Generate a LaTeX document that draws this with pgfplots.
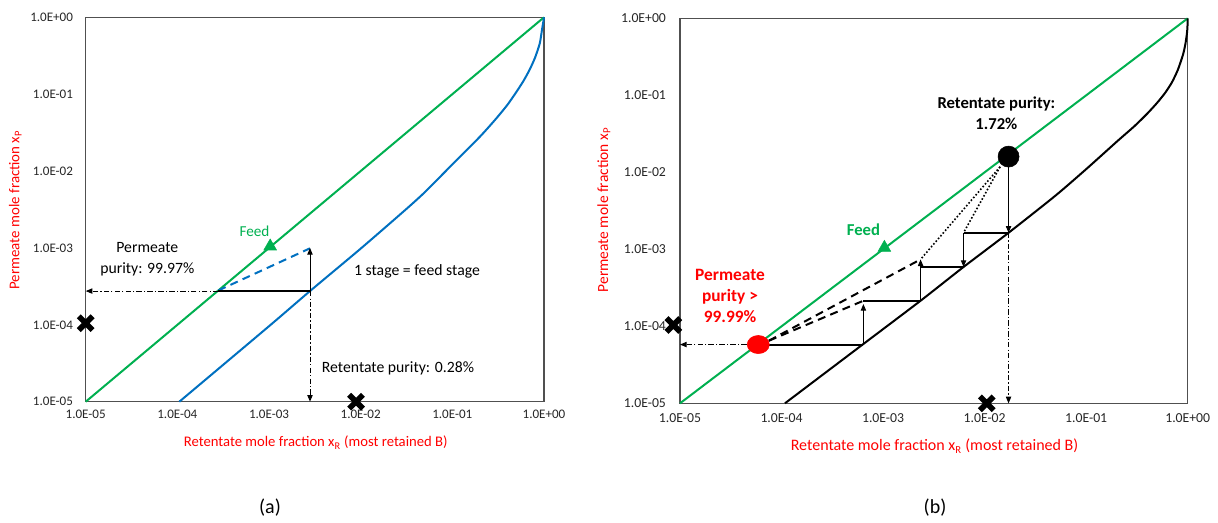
\documentclass[border=0pt]{standalone}
\usepackage{fontspec}
\setmainfont{Carlito}
\usepackage{pgfplots}
\pgfplotsset{compat=1.18}
\usetikzlibrary{arrows.meta}
\definecolor{xlgreen}{RGB}{0,176,80}
\definecolor{xlblue}{RGB}{0,112,192}
\definecolor{axgray}{RGB}{80,80,80}
\definecolor{xlred}{RGB}{255,0,0}

\tikzset{
  arr/.style={black, line width=0.7pt, -{Triangle[length=5pt,width=4pt]}},
  dda/.style={black, line width=0.7pt, dash pattern=on 4pt off 1.6pt on 1pt off 1.6pt, -{Triangle[length=5pt,width=4pt]}},
  stp/.style={black, line width=1.5pt},
  bigx/.style={only marks, mark=x, mark size=7.3pt, line width=4.2pt, black},
}

\begin{document}
\begin{tikzpicture}
\begin{scope}[x=0.75pt,y=-0.75pt]
  \path[use as bounding box] (0,0) rectangle (1218,522);
\end{scope}

% ---------------- panel (a)
\begin{axis}[
  xmode=log, ymode=log, scale only axis,
  xmin=1e-5, xmax=1, ymin=1e-5, ymax=1,
  xtick={1e-5,1e-4,1e-3,1e-2,1e-1,1},
  ytick={1e-5,1e-4,1e-3,1e-2,1e-1,1},
  xticklabels={1.0E-05,1.0E-04,1.0E-03,1.0E-02,1.0E-01,1.0E+00},
  yticklabels={1.0E-05,1.0E-04,1.0E-03,1.0E-02,1.0E-01,1.0E+00},
  xminorticks=false, yminorticks=false,
  major tick length=0pt,
  axis line style={draw=axgray, line width=1.1pt},
  clip=false,
  tick label style={text=black!85, font=\fontsize{9.8}{11}\selectfont},
  at={(64.28pt,-301.28pt)}, anchor=south west,
  width=343.7pt, height=288.3pt,
  xticklabel style={yshift=-3pt}, yticklabel style={xshift=-6pt}]
  \addplot[xlgreen, line width=1.5pt] coordinates {(1e-5,1e-5) (1,1)};
  \addplot[xlblue, line width=1.5pt, smooth, tension=0.4] coordinates {
    (1.05e-4,1e-5) (1e-3,9.6e-5) (2.8e-3,2.75e-4) (1e-2,9.8e-4) (3e-2,3.05e-3) (5e-2,5.3e-3)
    (0.1,0.0122) (0.2,0.028) (0.3,0.048) (0.4,0.073) (0.5,0.107) (0.6,0.150)
    (0.7,0.21) (0.8,0.30) (0.9,0.458) (0.95,0.68) (0.98,0.85) (1,1)};
  \addplot[xlblue, line width=1.5pt, dash pattern=on 6pt off 4pt] coordinates {(2.8e-4,2.8e-4) (2.8e-3,9.9e-4)};
  \addplot[stp] coordinates {(2.8e-4,2.75e-4) (2.8e-3,2.75e-4)};
  \addplot[arr] coordinates {(2.8e-3,2.75e-4) (2.8e-3,1e-3)};
  \addplot[dda] coordinates {(2.8e-4,2.75e-4) (1e-5,2.75e-4)};
  \addplot[dda] coordinates {(2.8e-3,2.75e-4) (2.8e-3,1e-5)};
  \addplot[only marks, mark=triangle*, mark size=5.5pt, xlgreen] coordinates {(1.03e-3,1.05e-3)};
  \addplot[bigx] coordinates {(1e-5,1.05e-4) (8.9e-3,1e-5)};
\end{axis}

% ---------------- panel (b)
\begin{axis}[
  xmode=log, ymode=log, scale only axis,
  xmin=1e-5, xmax=1, ymin=1e-5, ymax=1,
  xtick={1e-5,1e-4,1e-3,1e-2,1e-1,1},
  ytick={1e-5,1e-4,1e-3,1e-2,1e-1,1},
  xticklabels={1.0E-05,1.0E-04,1.0E-03,1.0E-02,1.0E-01,1.0E+00},
  yticklabels={1.0E-05,1.0E-04,1.0E-03,1.0E-02,1.0E-01,1.0E+00},
  xminorticks=false, yminorticks=false,
  major tick length=0pt,
  axis line style={draw=axgray, line width=1.1pt},
  clip=false,
  tick label style={text=black!85, font=\fontsize{10.3}{12}\selectfont},
  at={(510pt,-302.48pt)}, anchor=south west,
  width=380.8pt, height=288.75pt,
  xticklabel style={yshift=-4pt}, yticklabel style={xshift=-7pt}]
  \addplot[xlgreen, line width=1.5pt] coordinates {(1e-5,1e-5) (1,1)};
  \addplot[black, line width=1.5pt, smooth, tension=0.4] coordinates {
    (1.08e-4,1e-5) (6.4e-4,5.9e-5) (2.34e-3,2.15e-4) (6.2e-3,5.9e-4) (1.72e-2,1.64e-3)
    (5e-2,5e-3) (0.1,0.011) (0.2,0.025) (0.3,0.040) (0.4,0.058) (0.5,0.080)
    (0.6,0.108) (0.7,0.148) (0.8,0.215) (0.9,0.34) (0.95,0.47) (0.985,0.66) (0.997,0.85) (1,1)};
  % dashed and dotted construction lines
  \addplot[black, line width=1.5pt, dash pattern=on 6pt off 4pt] coordinates {(7.5e-5,6.5e-5) (6.4e-4,2.15e-4)};
  \addplot[black, line width=1.5pt, dash pattern=on 6pt off 4pt] coordinates {(7.5e-5,6.5e-5) (2.34e-3,7.4e-4)};
  \addplot[black, line width=1.2pt, dash pattern=on 1.2pt off 1.5pt] coordinates {(1.42e-2,1.18e-2) (2.34e-3,7.4e-4)};
  \addplot[black, line width=1.2pt, dash pattern=on 1.2pt off 1.5pt] coordinates {(1.42e-2,1.18e-2) (6.2e-3,1.64e-3)};
  % staircase
  \addplot[stp] coordinates {(5.8e-5,5.8e-5) (6.4e-4,5.8e-5)};
  \addplot[arr] coordinates {(6.4e-4,5.8e-5) (6.4e-4,1.95e-4)};
  \addplot[stp] coordinates {(6.4e-4,2.15e-4) (2.34e-3,2.15e-4)};
  \addplot[arr] coordinates {(2.34e-3,2.15e-4) (2.34e-3,7.4e-4)};
  \addplot[stp] coordinates {(2.34e-3,5.9e-4) (6.2e-3,5.9e-4)};
  \addplot[arr] coordinates {(6.2e-3,1.64e-3) (6.2e-3,5.9e-4)};
  \addplot[stp] coordinates {(6.2e-3,1.64e-3) (1.72e-2,1.64e-3)};
  \addplot[arr] coordinates {(1.72e-2,1.5e-2) (1.72e-2,1.64e-3)};
  \addplot[dda] coordinates {(1.72e-2,1.64e-3) (1.72e-2,1e-5)};
  \addplot[dda] coordinates {(5.8e-5,5.8e-5) (1e-5,5.8e-5)};
  % markers
  \addplot[only marks, mark=triangle*, mark size=5.5pt, xlgreen] coordinates {(1.03e-3,1.05e-3)};
  \addplot[only marks, mark=*, mark size=7.9pt, black] coordinates {(1.72e-2,1.6e-2)};
  \addplot[only marks, mark=*, mark size=8.3pt, xlred, mark options={yscale=0.82}] coordinates {(5.9e-5,5.8e-5)};
  \addplot[bigx] coordinates {(8.6e-6,1.04e-4) (1.05e-2,1e-5)};
\end{axis}

% ---------------- text (pixel coordinates, y downward)
\begin{scope}[x=0.75pt,y=-0.75pt]
  % panel (a)
  \node[rotate=90, text=xlred, font=\fontsize{11.2}{13}\selectfont] at (15.3,210) {Permeate mole fraction x\textsubscript{P}};
  \node[text=xlred, font=\fontsize{11}{13}\selectfont] at (315.7,442.7) {Retentate mole fraction x\textsubscript{R} (most retained B)};
  \node[text=xlgreen, font=\fontsize{11.4}{13}\selectfont] at (254.5,231.7) {Feed};
  \node[align=center, font=\fontsize{11.8}{15.8}\selectfont] at (147.3,258.8) {Permeate\\purity: 99.97\%};
  \node[font=\fontsize{11.8}{14}\selectfont] at (417,271.7) {1 stage = feed stage};
  \node[font=\fontsize{11.8}{14}\selectfont] at (398,368.3) {Retentate purity: 0.28\%};
  \node[font=\fontsize{15}{18}\selectfont] at (270,508) {(a)};
  % panel (b)
  \node[rotate=90, text=xlred, font=\fontsize{11.6}{13}\selectfont] at (603.9,210) {Permeate mole fraction x\textsubscript{P}};
  \node[text=xlred, font=\fontsize{12}{14}\selectfont] at (934.5,446) {Retentate mole fraction x\textsubscript{R} (most retained B)};
  \node[align=center, font=\bfseries\fontsize{12.5}{16}\selectfont] at (996.4,113.3) {Retentate purity:\\1.72\%};
  \node[text=xlgreen, font=\bfseries\fontsize{12.5}{15}\selectfont] at (863.4,230) {Feed};
  \node[align=center, text=xlred, font=\bfseries\fontsize{13}{15.8}\selectfont] at (730,296.2) {Permeate\\purity >\\99.99\%};
  \node[font=\fontsize{15}{18}\selectfont] at (935,508) {(b)};
\end{scope}
\end{tikzpicture}
\end{document}
